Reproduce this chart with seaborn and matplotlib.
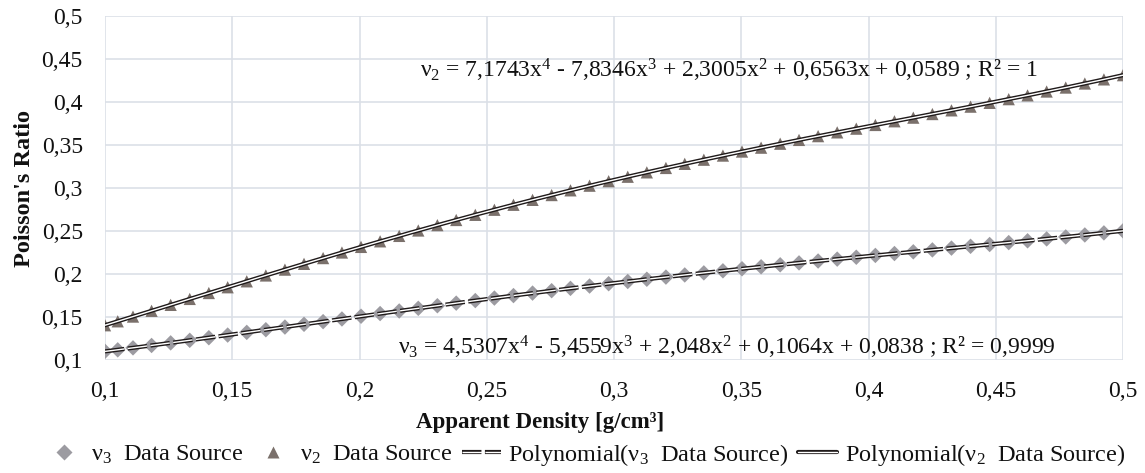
import numpy as np
import pandas as pd
import matplotlib
matplotlib.use("Agg")
import matplotlib.pyplot as plt
import matplotlib.patheffects as pe
from matplotlib.lines import Line2D
from matplotlib.ticker import FuncFormatter
import seaborn as sns

# ---------------- data ----------------
density = [0.1000, 0.1050, 0.1110, 0.1183, 0.1258, 0.1333, 0.1408, 0.1482, 0.1557,
           0.1632, 0.1707, 0.1782, 0.1857, 0.1931, 0.2006, 0.2081, 0.2156, 0.2231,
           0.2306, 0.2380, 0.2455, 0.2530, 0.2605, 0.2680, 0.2755, 0.2829, 0.2904,
           0.2979, 0.3054, 0.3129, 0.3204, 0.3278, 0.3353, 0.3428, 0.3503, 0.3578,
           0.3653, 0.3727, 0.3802, 0.3877, 0.3952, 0.4027, 0.4102, 0.4176, 0.4251,
           0.4326, 0.4401, 0.4476, 0.4551, 0.4625, 0.4700, 0.4775, 0.4850, 0.4925,
           0.5000]
nu3 = [0.1101, 0.1118, 0.1141, 0.1169, 0.1199, 0.1229, 0.1259, 0.1290, 0.1321,
       0.1352, 0.1383, 0.1415, 0.1446, 0.1477, 0.1509, 0.1540, 0.1570, 0.1601,
       0.1631, 0.1661, 0.1691, 0.1720, 0.1749, 0.1778, 0.1806, 0.1833, 0.1860,
       0.1887, 0.1913, 0.1939, 0.1964, 0.1989, 0.2013, 0.2037, 0.2061, 0.2084,
       0.2107, 0.2129, 0.2151, 0.2173, 0.2195, 0.2216, 0.2238, 0.2258, 0.2280,
       0.2301, 0.2322, 0.2343, 0.2365, 0.2386, 0.2408, 0.2431, 0.2454, 0.2478,
       0.2502]
nu2 = [0.1404, 0.1450, 0.1505, 0.1572, 0.1641, 0.1710, 0.1779, 0.1846, 0.1915,
       0.1983, 0.2051, 0.2118, 0.2185, 0.2250, 0.2315, 0.2380, 0.2443, 0.2506,
       0.2568, 0.2628, 0.2688, 0.2747, 0.2805, 0.2862, 0.2918, 0.2973, 0.3027,
       0.3079, 0.3131, 0.3182, 0.3233, 0.3281, 0.3329, 0.3377, 0.3424, 0.3469,
       0.3515, 0.3559, 0.3603, 0.3647, 0.3690, 0.3733, 0.3776, 0.3818, 0.3860,
       0.3903, 0.3946, 0.3990, 0.4033, 0.4077, 0.4122, 0.4168, 0.4215, 0.4263,
       0.4312]
ticks = [0.1, 0.15, 0.2, 0.25, 0.3, 0.35, 0.4, 0.45, 0.5]

eq_nu2 = "ν$_2$ = 7,1743x$^4$ - 7,8346x$^3$ + 2,3005x$^2$ + 0,6563x + 0,0589 ; R² = 1"
eq_nu3 = "ν$_3$ = 4,5307x$^4$ - 5,4559x$^3$ + 2,048x$^2$ + 0,1064x + 0,0838 ; R² = 0,9999"
labels = ["ν$_3$  Data Source", "ν$_2$  Data Source",
          "Polynomial(ν$_3$  Data Source)", "Polynomial(ν$_2$  Data Source)"]
xlabel = "Apparent Density [g/cm³]"
ylabel = "Poisson's Ratio"

# ---------------- style ----------------
sns.set_theme(style="white")
plt.rcParams["font.family"] = ["Liberation Serif", "DejaVu Serif"]
plt.rcParams["mathtext.fontset"] = "custom"
plt.rcParams["mathtext.rm"] = "Liberation Serif"
plt.rcParams["mathtext.it"] = "Liberation Serif:italic"
plt.rcParams["mathtext.bf"] = "Liberation Serif:bold"
plt.rcParams["mathtext.default"] = "rm"

c_dia = "#9c9ba1"
c_tri = "#7a706b"
c_line = "#1f1a1a"
c_grid = "#dbe0e7"

fig = plt.figure(figsize=(11.45, 4.73), dpi=100)
ax = fig.add_axes([105 / 1145, 1 - 360 / 473, 1018 / 1145, 344 / 473])

df = pd.DataFrame({"density": density, "nu3": nu3, "nu2": nu2})

sns.scatterplot(data=df, x="density", y="nu3", marker="D", s=62, color=c_dia,
                edgecolor="none", linewidth=0, ax=ax, zorder=2)
sns.scatterplot(data=df, x="density", y="nu2", marker="^", s=78, color=c_tri,
                edgecolor="none", linewidth=0, ax=ax, zorder=2)

# polynomial (order 4) trendlines, as Excel does
xx = np.linspace(min(density), max(density), 400)
fit3 = np.polyval(np.polyfit(density, nu3, 4), xx)
fit2 = np.polyval(np.polyfit(density, nu2, 4), xx)
stroke = [pe.Stroke(linewidth=3.0, foreground=c_line), pe.Normal()]
dash3 = (0, (14, 2.5))
sns.lineplot(x=xx, y=fit3, color="white", linewidth=1.0, linestyle=dash3,
             path_effects=stroke, ax=ax, zorder=3)
sns.lineplot(x=xx, y=fit2, color="white", linewidth=1.0,
             path_effects=stroke, ax=ax, zorder=3)

# axes
ax.set_xlim(0.1, 0.5)
ax.set_ylim(0.1, 0.5)
ax.set_xticks(ticks)
ax.set_yticks(ticks)
fmt = FuncFormatter(lambda v, p: f"{v:g}".replace(".", ","))
ax.xaxis.set_major_formatter(fmt)
ax.yaxis.set_major_formatter(fmt)
ax.grid(True, color=c_grid, linewidth=1.2)
ax.set_axisbelow(True)
for s in ax.spines.values():
    s.set_visible(False)
ax.tick_params(axis="both", length=0, labelsize=17, colors="#111111")
ax.tick_params(axis="y", pad=16)
ax.tick_params(axis="x", pad=15)

ax.set_xlabel(xlabel, fontsize=16.5, fontweight="bold", color="#111111")
ax.set_ylabel(ylabel, fontsize=17.5, fontweight="bold", color="#111111")
ax.xaxis.set_label_coords((540 - 105) / 1018, (360 - 412) / 344)
ax.yaxis.set_label_coords((35 - 105) / 1018, 0.5)

# equations
ax.text((1038 - 105) / 1018, (360 - 70) / 344, eq_nu2, transform=ax.transAxes,
        ha="right", va="center", fontsize=17, color="#111111")
ax.text((398 - 105) / 1018, (360 - 347) / 344, eq_nu3, transform=ax.transAxes,
        ha="left", va="center", fontsize=17, color="#111111")

# legend
handles = [
    Line2D([], [], ls="none", marker="D", ms=7.9, color=c_dia, mec="none"),
    Line2D([], [], ls="none", marker="^", ms=8.8, color=c_tri, mec="none"),
    Line2D([], [], color="white", lw=1.0, ls=dash3, path_effects=stroke),
    Line2D([], [], color="white", lw=1.0, path_effects=stroke),
]
fig.legend(handles, labels, loc="center", bbox_to_anchor=(585 / 1145, 18 / 473),
           ncol=4, frameon=False, fontsize=17.5, handlelength=1.6,
           handletextpad=0.3, columnspacing=0.4, labelcolor="#111111")

fig.savefig("out.png", dpi=100)
